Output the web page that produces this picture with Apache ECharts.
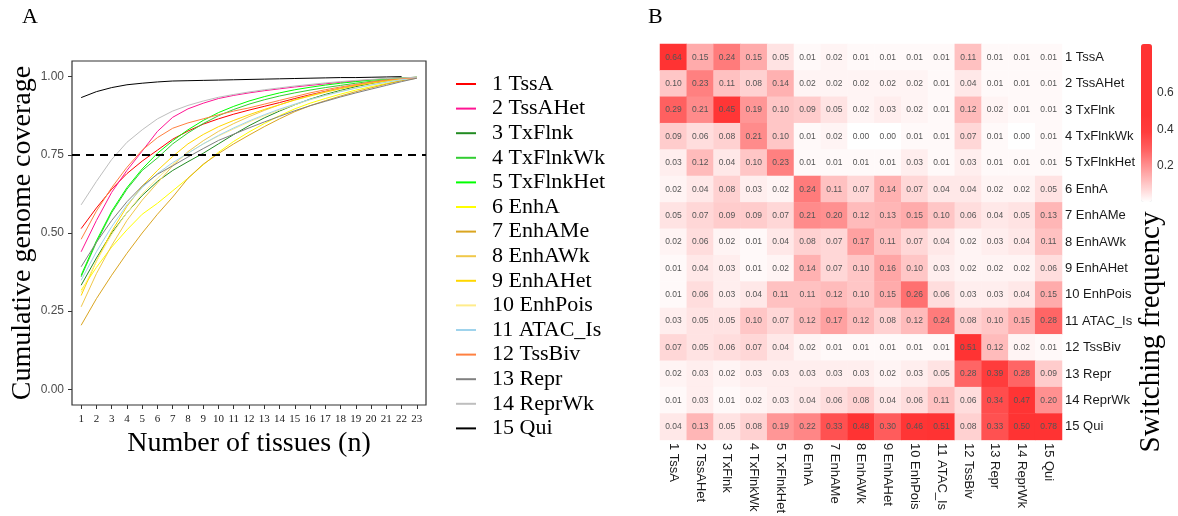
<!DOCTYPE html>
<html><head><meta charset="utf-8">
<script src="https://cdn.jsdelivr.net/npm/echarts@6/dist/echarts.min.js"></script>
<style>html,body{margin:0;padding:0;background:#fff}#c{width:1178px;height:516px}</style>
</head><body><div id="c"></div>
<script>
// ---------- data ----------
const stateNames = ['1 TssA','2 TssAHet','3 TxFlnk','4 TxFlnkWk','5 TxFlnkHet','6 EnhA','7 EnhAMe','8 EnhAWk','9 EnhAHet','10 EnhPois','11 ATAC_Is','12 TssBiv','13 Repr','14 ReprWk','15 Qui'];
const stateColors = ['#FF0000','#FF1493','#228B22','#32CD32','#00FF00','#FFFF00','#DAA520','#F0C84A','#FFD700','#FFEC8B','#9FD3EC','#FF8040','#808080','#BEBEBE','#000000'];
const tissueCounts = [1,2,3,4,5,6,7,8,9,10,11,12,13,14,15,16,17,18,19,20,21,22,23];
const xTickValues = [1,2,3,4,5,6,7,8,9,10,11,12,13,14,15,16,17,18,19,20,21,22,23];
const yTickValues = [0,0.25,0.5,0.75,1];
const thresholdCoverage = 0.75;

const covTssA      = [0.514,0.58,0.64,0.69,0.73,0.765,0.80,0.826,0.848,0.865,0.88,0.893,0.905,0.917,0.93,0.942,0.953,0.963,0.972,0.98,0.987,0.993,0.996];
const covTssAHet   = [0.44,0.54,0.63,0.70,0.762,0.825,0.87,0.897,0.915,0.93,0.94,0.948,0.955,0.961,0.967,0.972,0.977,0.982,0.986,0.99,0.993,0.996,0.998];
const covTxFlnk    = [0.333,0.42,0.50,0.565,0.62,0.665,0.70,0.728,0.755,0.785,0.815,0.843,0.868,0.89,0.91,0.928,0.943,0.956,0.968,0.978,0.986,0.993,0.997];
const covTxFlnkWk  = [0.36,0.47,0.565,0.64,0.70,0.74,0.785,0.82,0.85,0.875,0.895,0.912,0.926,0.938,0.948,0.957,0.965,0.972,0.979,0.985,0.99,0.995,0.998];
const covTxFlnkHet = [0.365,0.475,0.57,0.645,0.705,0.755,0.795,0.83,0.86,0.885,0.905,0.922,0.936,0.948,0.958,0.966,0.973,0.979,0.984,0.989,0.993,0.996,0.998];
const covEnhA      = [0.317,0.39,0.455,0.51,0.56,0.595,0.635,0.675,0.718,0.758,0.793,0.823,0.85,0.875,0.897,0.915,0.93,0.944,0.957,0.968,0.978,0.988,0.996];
const covEnhAMe    = [0.205,0.29,0.365,0.435,0.50,0.56,0.615,0.675,0.72,0.754,0.785,0.813,0.84,0.865,0.888,0.907,0.923,0.938,0.952,0.964,0.976,0.987,0.995];
const covEnhAWk    = [0.264,0.37,0.46,0.54,0.605,0.66,0.715,0.76,0.795,0.825,0.85,0.872,0.892,0.91,0.926,0.94,0.952,0.963,0.972,0.98,0.987,0.993,0.997];
const covEnhAHet   = [0.30,0.41,0.505,0.585,0.65,0.70,0.745,0.785,0.815,0.84,0.86,0.878,0.895,0.91,0.925,0.938,0.95,0.961,0.971,0.979,0.986,0.992,0.996];
const covEnhPois   = [0.31,0.41,0.495,0.565,0.625,0.675,0.72,0.755,0.785,0.81,0.833,0.855,0.875,0.893,0.91,0.926,0.94,0.953,0.964,0.974,0.983,0.991,0.996];
const covATAC_Is   = [0.349,0.44,0.52,0.59,0.645,0.69,0.725,0.755,0.785,0.812,0.836,0.858,0.878,0.896,0.912,0.927,0.94,0.952,0.963,0.973,0.982,0.99,0.996];
const covTssBiv    = [0.48,0.57,0.645,0.71,0.765,0.805,0.835,0.852,0.865,0.878,0.89,0.90,0.912,0.924,0.936,0.948,0.958,0.967,0.975,0.983,0.989,0.994,0.996];
const covRepr      = [0.392,0.47,0.54,0.60,0.65,0.688,0.715,0.743,0.77,0.796,0.816,0.836,0.855,0.873,0.891,0.907,0.921,0.935,0.948,0.96,0.972,0.984,0.995];
const covReprWk    = [0.59,0.665,0.735,0.79,0.83,0.865,0.89,0.908,0.922,0.934,0.943,0.951,0.958,0.964,0.97,0.975,0.98,0.984,0.988,0.991,0.994,0.996,0.998];
const covQui       = [0.933,0.952,0.965,0.974,0.979,0.983,0.986,0.987,0.988,0.989,0.99,0.991,0.992,0.993,0.994,0.995,0.996,0.997,0.997,0.998,0.999,1.0];

const coverageSets = [covTssA,covTssAHet,covTxFlnk,covTxFlnkWk,covTxFlnkHet,covEnhA,covEnhAMe,covEnhAWk,covEnhAHet,covEnhPois,covATAC_Is,covTssBiv,covRepr,covReprWk,covQui];

// switching frequency matrix (rows top to bottom, columns left to right)
const switchFreq = [
  [0.64,0.15,0.24,0.15,0.05,0.01,0.02,0.01,0.01,0.01,0.01,0.11,0.01,0.01,0.01],
  [0.10,0.23,0.11,0.08,0.14,0.02,0.02,0.02,0.02,0.02,0.01,0.04,0.01,0.01,0.01],
  [0.29,0.21,0.45,0.19,0.10,0.09,0.05,0.02,0.03,0.02,0.01,0.12,0.02,0.01,0.01],
  [0.09,0.06,0.08,0.21,0.10,0.01,0.02,0.00,0.00,0.01,0.01,0.07,0.01,0.00,0.01],
  [0.03,0.12,0.04,0.10,0.23,0.01,0.01,0.01,0.01,0.03,0.01,0.03,0.01,0.01,0.01],
  [0.02,0.04,0.08,0.03,0.02,0.24,0.11,0.07,0.14,0.07,0.04,0.04,0.02,0.02,0.05],
  [0.05,0.07,0.09,0.09,0.07,0.21,0.20,0.12,0.13,0.15,0.10,0.06,0.04,0.05,0.13],
  [0.02,0.06,0.02,0.01,0.04,0.08,0.07,0.17,0.11,0.07,0.04,0.02,0.03,0.04,0.11],
  [0.01,0.04,0.03,0.01,0.02,0.14,0.07,0.10,0.16,0.10,0.03,0.02,0.02,0.02,0.06],
  [0.01,0.06,0.03,0.04,0.11,0.11,0.12,0.10,0.15,0.26,0.06,0.03,0.03,0.04,0.15],
  [0.03,0.05,0.05,0.10,0.07,0.12,0.17,0.12,0.08,0.12,0.24,0.08,0.10,0.15,0.28],
  [0.07,0.05,0.06,0.07,0.04,0.02,0.01,0.01,0.01,0.01,0.01,0.51,0.12,0.02,0.01],
  [0.02,0.03,0.02,0.03,0.03,0.03,0.03,0.03,0.02,0.03,0.05,0.28,0.39,0.28,0.09],
  [0.01,0.03,0.01,0.02,0.03,0.04,0.06,0.08,0.04,0.06,0.11,0.06,0.34,0.47,0.20],
  [0.04,0.13,0.05,0.08,0.19,0.22,0.33,0.48,0.30,0.46,0.51,0.08,0.33,0.50,0.78]
];
const colorbarTicks = [0.2,0.4,0.6];
const colorbarMax = 0.87;
const heatColors = ['#FFFFFF','#FFC8C8','#FF9494','#FF6060','#FF3C3C','#FF3333','#FF3333','#FF3333','#FF3333','#FF3333'];

// ---------- chart ----------
const SERIF = "'Liberation Serif','Times New Roman',serif";
const SANS = "'Liberation Sans',Arial,Helvetica,sans-serif";

const lineSeries = stateNames.map((name, i) => ({
  type: 'line', name, xAxisIndex: 0, yAxisIndex: 0,
  data: coverageSets[i].map((v, k) => [tissueCounts[k], v]),
  symbol: 'none', showSymbol: false, smooth: false, silent: true,
  lineStyle: { color: stateColors[i], width: 1 },
  itemStyle: { color: stateColors[i] },
  z: 2
}));
lineSeries[lineSeries.length - 1].markLine = {
  silent: true, symbol: 'none', animation: false,
  label: { show: false },
  lineStyle: { type: [8, 6], color: '#000', width: 2 },
  data: [{ yAxis: thresholdCoverage }]
};

const heatData = [];
switchFreq.forEach((row, r) => row.forEach((v, c) => heatData.push([c, r, v])));

const option = {
  animation: false,
  backgroundColor: '#fff',
  title: [
    { text: 'A', left: 17, top: 1, textStyle: { fontFamily: SERIF, fontSize: 22, fontWeight: 'normal', color: '#000' } },
    { text: 'B', left: 643, top: 1, textStyle: { fontFamily: SERIF, fontSize: 22, fontWeight: 'normal', color: '#000' } }
  ],
  legend: {
    orient: 'vertical', left: 451, top: 68, itemWidth: 20, itemHeight: 2, itemGap: 2.6,
    icon: 'rect',
    data: stateNames,
    textStyle: { fontFamily: SERIF, fontSize: 22, lineHeight: 22, color: '#000', padding: [0, 0, 0, 11] },
    selectedMode: false
  },
  grid: [
    { left: 72, top: 61, width: 354, height: 344, show: true, borderColor: '#333', borderWidth: 1.2, backgroundColor: 'transparent' },
    { left: 660, top: 44, width: 402, height: 406 },
    { left: 1141, top: 44, width: 11, height: 158 }
  ],
  xAxis: [
    {
      gridIndex: 0, type: 'value', min: 0.4, max: 23.6,
      axisLine: { show: false, onZero: false }, splitLine: { show: false },
      axisTick: { show: true, length: 4, customValues: xTickValues, lineStyle: { color: '#333' } },
      axisLabel: { customValues: xTickValues, fontFamily: SERIF, fontSize: 11, color: '#1a1a1a', margin: 9 },
      name: 'Number of tissues (n)', nameLocation: 'middle', nameGap: 20,
      nameTextStyle: { fontFamily: SERIF, fontSize: 28, color: '#000' }
    },
    {
      gridIndex: 1, type: 'category', data: stateNames, position: 'bottom',
      axisLine: { show: false }, axisTick: { show: false }, splitLine: { show: false },
      axisLabel: { interval: 0, rotate: -90, margin: 3, fontFamily: SANS, fontSize: 13, color: '#1a1a1a' }
    },
    { gridIndex: 2, type: 'value', show: false, min: 0, max: 1 }
  ],
  yAxis: [
    {
      gridIndex: 0, type: 'value', min: -0.05, max: 1.05,
      axisLine: { show: false, onZero: false }, splitLine: { show: false },
      axisTick: { show: true, length: 4, customValues: yTickValues, lineStyle: { color: '#333' } },
      axisLabel: { customValues: yTickValues, formatter: v => v.toFixed(2), fontFamily: SANS, fontSize: 12, color: '#4d4d4d', margin: 8 },
      name: 'Cumulative genome coverage', nameLocation: 'middle', nameGap: 35, nameRotate: 90,
      nameTextStyle: { fontFamily: SERIF, fontSize: 28, color: '#000' }
    },
    {
      gridIndex: 1, type: 'category', data: stateNames, inverse: true, position: 'right',
      axisLine: { show: false }, axisTick: { show: false }, splitLine: { show: false },
      axisLabel: { interval: 0, margin: 3, fontFamily: SANS, fontSize: 13, color: '#1a1a1a' }
    },
    {
      gridIndex: 2, type: 'value', min: 0, max: colorbarMax, position: 'right',
      axisLine: { show: false }, splitLine: { show: false }, axisTick: { show: false },
      axisLabel: { customValues: colorbarTicks, formatter: v => v.toFixed(1), fontFamily: SANS, fontSize: 12, color: '#333', margin: 5 }
    }
  ],
  visualMap: {
    type: 'continuous', seriesIndex: stateNames.length, min: 0, max: colorbarMax,
    left: 1141, top: 44, itemWidth: 11, itemHeight: 158, padding: 0,
    calculable: false, text: null, show: true, hoverLink: false,
    inRange: { color: heatColors }
  },
  graphic: [
    { type: 'text', x: 1151, y: 332, rotation: Math.PI / 2,
      style: { text: 'Switching frequency', font: "29px " + SERIF, fill: '#000', align: 'center', verticalAlign: 'middle' } }
  ],
  series: lineSeries.concat([{
    type: 'heatmap', xAxisIndex: 1, yAxisIndex: 1, data: heatData, silent: true,
    itemStyle: { borderWidth: 0 },
    label: { show: true, formatter: p => p.value[2].toFixed(2), fontFamily: SANS, fontSize: 8.5, color: '#555' },
    emphasis: { disabled: true }
  }])
};

const chart = echarts.init(document.getElementById('c'), null, { renderer: 'canvas' });
chart.setOption(option);
</script></body></html>
